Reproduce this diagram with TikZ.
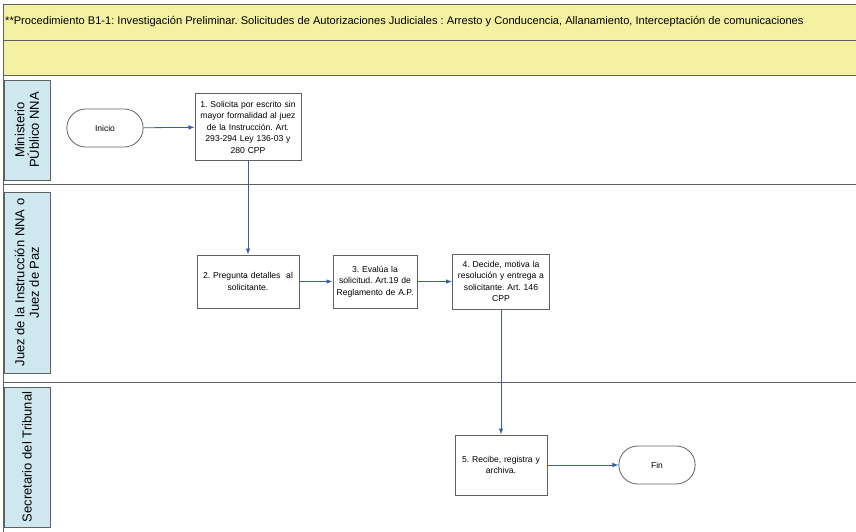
\documentclass[tikz,border=0pt]{standalone}
\usepackage{fontspec}
\setmainfont{Liberation Sans}
\usetikzlibrary{positioning,arrows.meta,shapes.misc}
\definecolor{bandyellow}{HTML}{F5F1A3}
\definecolor{lanecyan}{HTML}{CFE8F0}
\definecolor{flowblue}{HTML}{3A5BB0}
\definecolor{rulegray}{HTML}{606060}
\hyphenpenalty=10000
\exhyphenpenalty=10000
\frenchspacing
\begin{document}
\begin{tikzpicture}
[x=1pt,y=-1pt,
 task/.style={draw=rulegray,line width=1pt,fill=white,minimum height=66pt,
   align=center,inner sep=0pt,font=\fontsize{8.6}{11.5}\selectfont},
 terminal/.style={draw=rulegray,line width=0.8pt,rounded rectangle,minimum width=83pt,minimum height=38pt,
   font=\fontsize{8.5}{10}\selectfont},
 lanelabel/.style={draw=rulegray,line width=0.8pt,fill=lanecyan,minimum height=46pt,inner sep=0pt,
   align=center,font=\fontsize{13}{14.5}\selectfont},
 flow/.style={draw=flowblue,line width=0.8pt,-{Latex[length=6pt,width=4.5pt]}}]
\useasboundingbox (0,0) rectangle (856,532);
% header bands
\draw[rulegray,fill=bandyellow] (3,4) rectangle (860,40);
\draw[rulegray,fill=bandyellow] (3,40) rectangle (860,75);
\node[anchor=west,inner sep=0pt,font=\fontsize{11.1}{13}\selectfont] (title) at (5,22)
  {**Procedimiento B1-1: Investigación Preliminar. Solicitudes de Autorizaciones Judiciales : Arresto y Conducencia, Allanamiento, Interceptación de comunicaciones};
% lanes
\draw[rulegray,line width=0.8pt] (3,75) -- (3,532);
\draw[rulegray,line width=0.8pt] (3,184) -- (860,184);
\draw[rulegray,line width=0.8pt] (3,382) -- (860,382);
\node[lanelabel,minimum width=100pt,rotate=90] (lane1) at (27,130) {Ministerio\\PÚblico NNA};
\node[lanelabel,minimum width=181pt,rotate=90] (lane2) at (27,282.5) {Juez de la Instrucción NNA o\\Juez de Paz};
\node[lanelabel,minimum width=140pt,rotate=90] (lane3) at (27,457) {Secretario del Tribunal};
% steps
\node[terminal] (inicio) at (105,128) {Inicio};
\node[task,text width=106pt,minimum height=67pt] (s1) at (248,127) {1. Solicita por escrito sin\\mayor formalidad al juez\\de la Instrucción. Art.\\293-294 Ley 136-03 y\\280 CPP};
\node[task,text width=102pt,minimum height=53pt] (s2) at (248,281.5) {2. Pregunta detalles\ \ al\\solicitante.\\[12pt]};
\node[task,text width=84pt,minimum height=53pt] (s3) at (375,281.5) {3. Evalúa la\\solicitud. Art.19 de\\Reglamento de A.P.};
\node[task,text width=97pt,minimum height=55pt] (s4) at (501,281.5) {4. Decide, motiva la\\resolución y entrega a\\solicitante. Art. 146\\CPP};
\node[task,text width=92pt,minimum height=60pt] (s5) at (501,465) {5. Recibe, registra y\\archiva.};
\node[terminal] (fin) at (657,465) {Fin};
% connectors
\path[flow] (inicio) -- (s1);
\path[flow] (s1) -- (s2);
\path[flow] (s2) -- (s3);
\path[flow] (s3) -- (s4);
\path[flow] (s4) -- (s5);
\path[flow] (s5) -- (fin);
\end{tikzpicture}
\end{document}
